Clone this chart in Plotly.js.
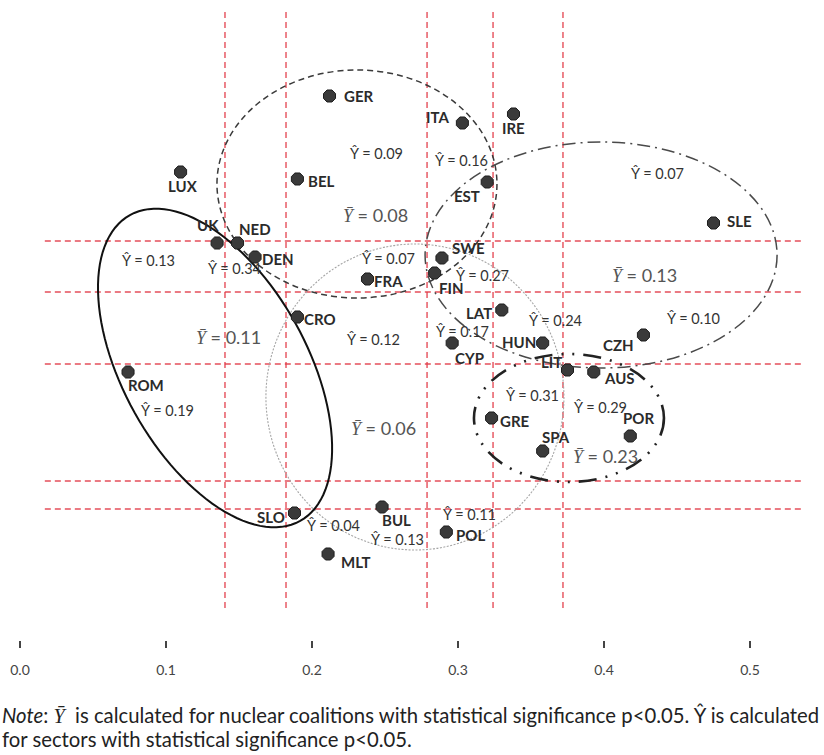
<!DOCTYPE html>
<html>
<head>
<meta charset="utf-8">
<script src="https://cdn.plot.ly/plotly-3.0.1.min.js"></script>
<style>
  html, body { margin: 0; padding: 0; background: #fff; }
  #chart { width: 824px; height: 755px; }
</style>
</head>
<body>
<div id="chart"></div>
<script>
// Country positions (x on the visible axis, y on an unlabelled vertical scale)
const countries = ['GER','ITA','IRE','LUX','BEL','EST','SLE','UK','NED','DEN','SWE','FIN','FRA','LAT',
                   'CRO','CZH','CYP','HUN','LIT','AUS','ROM','GRE','POR','SPA','BUL','SLO','POL','MLT'];
const xValues = [0.212,0.303,0.338,0.110,0.190,0.320,0.475,0.135,0.149,0.161,0.289,0.284,0.238,0.330,
                 0.190,0.427,0.296,0.358,0.375,0.393,0.074,0.323,0.418,0.358,0.248,0.188,0.292,0.211];
const yValues = [5.44,5.17,5.26,4.68,4.61,4.58,4.17,3.97,3.97,3.83,3.82,3.67,3.61,3.30,
                 3.23,3.05,2.97,2.97,2.70,2.68,2.68,2.22,2.04,1.89,1.33,1.27,1.08,0.86];

// Sector boundaries
const cutX = [0.1404, 0.1822, 0.2788, 0.3240, 0.3719];
const cutY = [3.99, 3.48, 2.76, 1.59, 1.31];

// Sector estimates (Ŷ)
const sectorValues = ['0.09','0.16','0.07','0.13','0.34','0.07','0.27','0.24','0.17','0.12','0.10','0.19','0.31','0.29','0.04','0.13','0.11'];
const sectorX = [0.2445,0.3021,0.4363,0.0877,0.1466,0.2521,0.3171,0.3671,0.3034,0.2418,0.4616,0.1007,0.3507,0.3973,0.2144,0.2589,0.3082];
const sectorY = [4.87,4.80,4.67,3.80,3.72,3.82,3.65,3.20,3.09,3.01,3.22,2.30,2.45,2.33,1.15,1.01,1.26];

// Nuclear coalition estimates (Ȳ)
const coalitionValues = ['0.08','0.13','0.11','0.06','0.23'];
const coalitionX = [0.2432,0.4274,0.1425,0.2493,0.4007];
const coalitionY = [4.25,3.65,3.03,2.12,1.84];

// Tick labels
const tickValues = [0, 0.1, 0.2, 0.3, 0.4, 0.5];
const tickLabels = ['0.0','0.1','0.2','0.3','0.4','0.5'];

// ---- drawing settings ----
const W = 824, H = 755, PLOT_H = 640;
const X_RANGE = [-20/1460, 804/1460];
const Y_RANGE = [0, 6.4];
const pxPerX = W / (X_RANGE[1] - X_RANGE[0]);
const pxPerY = PLOT_H / (Y_RANGE[1] - Y_RANGE[0]);

// label offsets from each marker, in pixels (dx right, dy down)
const labelOffsets = [[29,0],[-25,-6],[0,14],[2,14],[24,2],[-20,14],[26,-2],[-9,-18],[17,-14],[23,2],
                      [27,-10],[17,15],[21,2],[-23,3],[23,2],[-25,10],[17,15],[-24,-1],[-16,-8],[26,6],
                      [18,13],[23,3],[8,-18],[13,-14],[14,13],[-23,4],[24,3],[28,8]];

const red = 'rgba(226,60,72,0.9)';
const shapes = [];
cutX.forEach(v => shapes.push({type:'line', xref:'x', yref:'y', x0:v, x1:v, y0:6.28, y1:0.32,
  layer:'below', line:{color:red, width:1.4, dash:'6px,4px'}}));
cutY.forEach(v => shapes.push({type:'line', xref:'x', yref:'y', x0:0.017, x1:0.537, y0:v, y1:v,
  layer:'below', line:{color:red, width:1.4, dash:'6px,4px'}}));

function ellipse(cx, cy, rxPx, ryPx, line) {
  return {type:'circle', xref:'x', yref:'y', layer:'below',
          x0: cx - rxPx/pxPerX, x1: cx + rxPx/pxPerX,
          y0: cy - ryPx/pxPerY, y1: cy + ryPx/pxPerY, line: line};
}
function tiltedEllipse(cx, cy, aPx, bPx, angleDeg, line) {
  const th = angleDeg * Math.PI / 180, n = 120;
  let d = '';
  for (let i = 0; i <= n; i++) {
    const t = 2 * Math.PI * i / n;
    const ex = aPx * Math.cos(t), ey = bPx * Math.sin(t);
    const sx = ex * Math.cos(th) - ey * Math.sin(th);
    const sy = ex * Math.sin(th) + ey * Math.cos(th);
    d += (i === 0 ? 'M' : 'L') + (cx + sx/pxPerX).toFixed(5) + ',' + (cy - sy/pxPerY).toFixed(4);
  }
  return {type:'path', xref:'x', yref:'y', layer:'below', path: d + 'Z', line: line};
}

// coalition outlines
shapes.push(ellipse(0.2308, 4.56, 140, 114, {color:'#3a3a3a', width:1.5, dash:'6px,4px'}));
shapes.push(ellipse(0.3980, 3.85, 176, 113, {color:'#4a4a4a', width:1.5, dash:'13px,5px,2px,5px'}));
shapes.push(ellipse(0.2705, 2.43, 149, 153, {color:'#a5a5a5', width:1.1, dash:'2px,1.5px'}));
shapes.push(tiltedEllipse(0.1336, 2.72, 175, 92, 60.9, {color:'#111', width:2}));
shapes.push(ellipse(0.3760, 2.22, 95, 64, {color:'#222', width:2.6, dash:'18px,9px,2px,9px,2px,9px'}));

const annotations = [];
const lblFont = {family:'Lato, "Open Sans", sans-serif', size:15, color:'#2b2b2b', weight:'bold'};
countries.forEach((c, i) => annotations.push({
  x: xValues[i], y: yValues[i], xref:'x', yref:'y', text: c, showarrow:false,
  xanchor:'center', yanchor:'middle', xshift: labelOffsets[i][0], yshift: -labelOffsets[i][1],
  font: lblFont
}));
sectorValues.forEach((v, i) => annotations.push({
  x: sectorX[i], y: sectorY[i], xref:'x', yref:'y', text: 'Ŷ = ' + v, showarrow:false,
  xanchor:'center', yanchor:'middle',
  font: {family:'Lato, "Open Sans", sans-serif', size:14.5, color:'#333'}
}));
const ybar = '<span style="font-family:\'Liberation Serif\', \'DejaVu Serif\', serif"><i>Ȳ</i></span>';
coalitionValues.forEach((v, i) => annotations.push({
  x: coalitionX[i], y: coalitionY[i], xref:'x', yref:'y', text: ybar + ' = ' + v, showarrow:false,
  xanchor:'center', yanchor:'middle',
  font: {family:'Lato, "Open Sans", sans-serif', size:18, color:'#555'}
}));
const noteFont = {family:'Lato, "Open Sans", sans-serif', size:20.3, color:'#222'};
annotations.push({xref:'paper', yref:'paper', x:0, y:0, xanchor:'left', yanchor:'middle',
  yshift:-75, showarrow:false, font: noteFont,
  text:'<i>Note</i>: ' + ybar + '  is calculated for nuclear coalitions with statistical significance p&lt;0.05. Ŷ is calculated'});
annotations.push({xref:'paper', yref:'paper', x:0, y:0, xanchor:'left', yanchor:'middle',
  yshift:-99, showarrow:false, font: noteFont,
  text:'for sectors with statistical significance p&lt;0.05.'});

const trace = {
  type:'scatter', mode:'markers', x: xValues, y: yValues, text: countries, hoverinfo:'text',
  marker:{symbol:'octagon', size:13, color:'#3a3a3a', line:{color:'#1e1e1e', width:1}},
  cliponaxis:false
};

const layout = {
  width: W, height: H,
  margin: {l:0, r:0, t:0, b:H-PLOT_H, pad:0},
  paper_bgcolor:'#fff', plot_bgcolor:'#fff',
  showlegend:false,
  xaxis: {range: X_RANGE, tickvals: tickValues, ticktext: tickLabels,
          showgrid:false, zeroline:false, showline:false,
          ticks:'outside', ticklen:7, tickwidth:1.3, tickcolor:'#444',
          ticklabelstandoff: 10,
          tickfont:{family:'Lato, "Open Sans", sans-serif', size:14, color:'#444'}},
  yaxis: {range: Y_RANGE, visible:false, fixedrange:true},
  shapes: shapes,
  annotations: annotations
};

Plotly.newPlot('chart', [trace], layout, {displayModeBar:false, staticPlot:true});
</script>
</body>
</html>
